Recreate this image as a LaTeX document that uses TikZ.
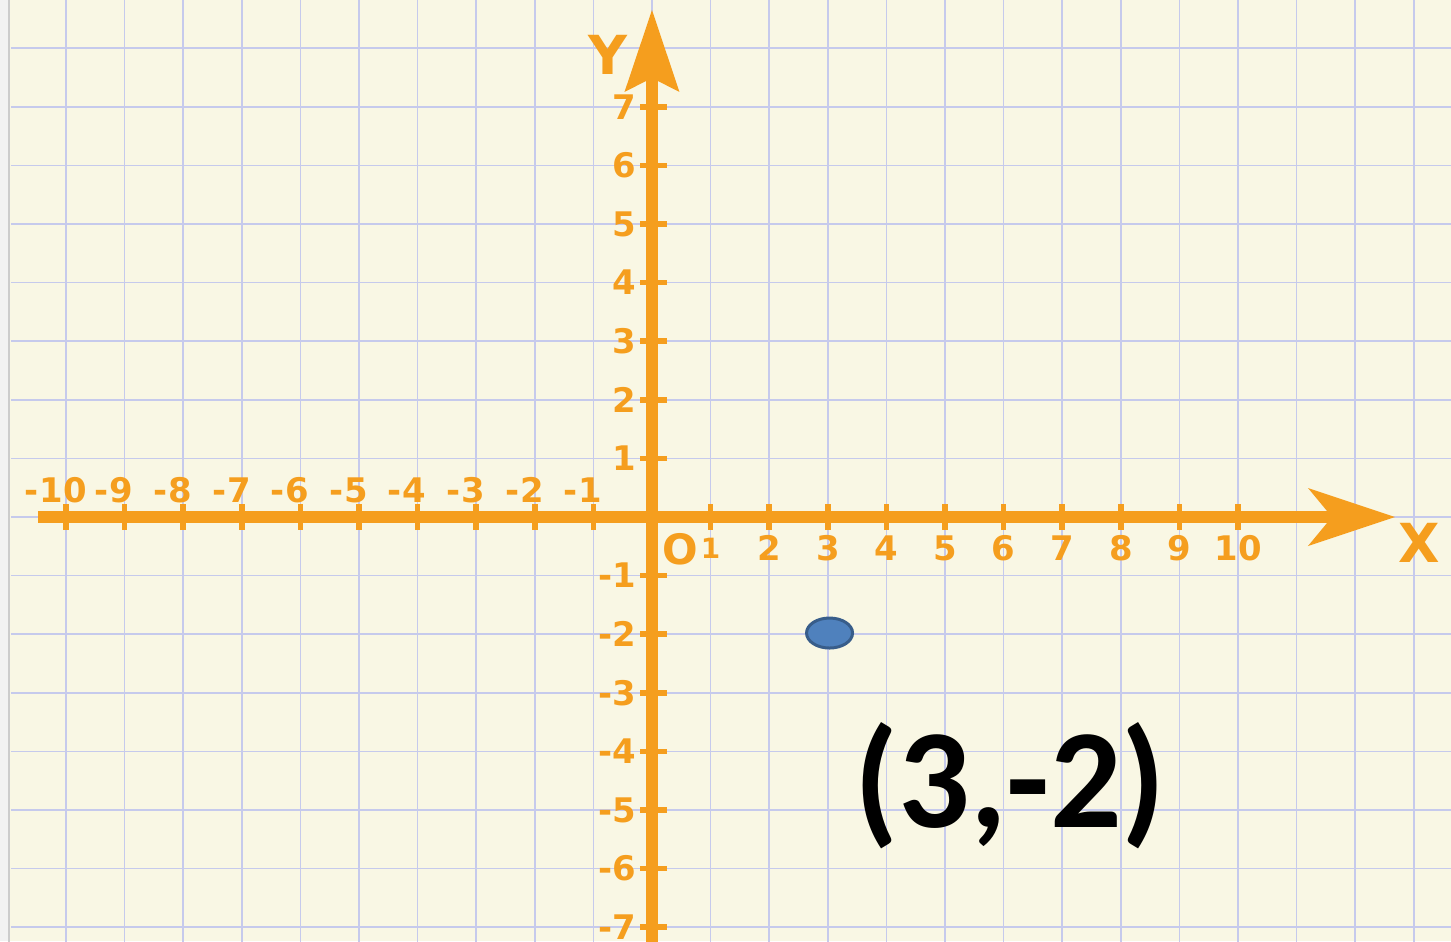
\documentclass[tikz,border=0pt]{standalone}
\usepackage{fontspec}
\newfontfamily\lblfont{DejaVu Sans}
\newfontfamily\bigfont{Carlito}
\usetikzlibrary{arrows.meta,shapes.geometric}
\definecolor{paper}{RGB}{249,247,228}
\definecolor{gridc}{RGB}{198,202,236}
\definecolor{axisc}{RGB}{245,158,30}
\definecolor{ptfill}{RGB}{79,129,189}
\definecolor{ptdraw}{RGB}{56,93,138}
\tikzset{
  gridline/.style={gridc, line width=1.6bp},
  axisline/.style={axisc, line width=12bp},
  tickmark/.style={axisc, line width=5.5bp},
  numlbl/.style={text=axisc, font=\lblfont\bfseries\fontsize{34}{34}\selectfont, inner sep=0pt},
  axlbl/.style={text=axisc, font=\lblfont\bfseries\fontsize{54}{54}\selectfont, inner sep=0pt},
  ptmark/.style={ellipse, fill=ptfill, draw=ptdraw, line width=3bp, minimum width=46bp, minimum height=30bp, inner sep=0pt},
}
\begin{document}
\begin{tikzpicture}[x=58.6bp,y=58.6bp]
\clip (-11.126,-7.2355) rectangle (13.635,8.8225);
\fill[paper] (-11.126,-7.2355) rectangle (13.635,8.8225);
\fill[gray!10] (-11.126,-7.2355) rectangle (-10.96,8.8225);
\draw[gray!40, line width=2bp] (-10.975,-7.3) -- (-10.975,8.9);
% grid
\foreach \i in {-10,...,13} \draw[gridline] (\i,-7.3) -- (\i,8.9);
\foreach \j in {-7,...,8} \draw[gridline] (-10.94,\j) -- (13.7,\j);
% axes
\coordinate (xs) at (-10.478,0);
\coordinate (xe) at (12.679,0);
\coordinate (ys) at (0,-7.4);
\coordinate (ye) at (0,8.652);
\draw[axisline, -{Stealth[length=87bp,width=58bp,inset=24bp,line width=0pt]}] (xs) -- (xe);
\draw[axisline, -{Stealth[length=82bp,width=55bp,inset=14bp,line width=0pt]}] (ys) -- (ye);
% ticks
\foreach \i in {-10,...,-1,1,2,...,10} \draw[tickmark] (\i,-0.22) -- (\i,0.22);
\foreach \j in {-7,...,-1,1,2,...,7} \draw[tickmark] (-0.2,\j) -- (0.25,\j);
% x labels
\foreach \i in {-10,...,-1} {
  \pgfmathtruncatemacro{\a}{-\i}
  \node[numlbl, anchor=base] (xn\a) at (\i-0.05,0.256) {\llap{-\kern1bp}\a};
}
\node[numlbl, anchor=base, font=\lblfont\bfseries\fontsize{28}{28}\selectfont] (xp1) at (1.0,-0.705) {1};
\foreach \i in {2,...,10} \node[numlbl, anchor=base] (xp\i) at (\i,-0.734) {\i};
% y labels
\foreach \j in {1,...,7} \node[numlbl, anchor=east] (yp\j) at (-0.26,\j) {\j};
\foreach \j in {-7,...,-1} {
  \pgfmathtruncatemacro{\b}{-\j}
  \node[numlbl, anchor=east] (yn\b) at (-0.26,\j) {-\b};
}
% axis names
\node[axlbl] (ylab) at (-0.751,7.884) {Y};
\node[axlbl] (xlab) at (13.09,-0.444) {X};
\node[numlbl, font=\lblfont\bfseries\fontsize{42}{42}\selectfont] (olab) at (0.478,-0.55) {O};
% point
\node[ptmark] (pt) at (3.03,-1.98) {};
\node[anchor=base, inner sep=0pt, font=\bigfont\bfseries\fontsize{142}{142}\selectfont] (ptlab) at (6.11,-5.29) {(3,-2)};
\end{tikzpicture}
\end{document}
